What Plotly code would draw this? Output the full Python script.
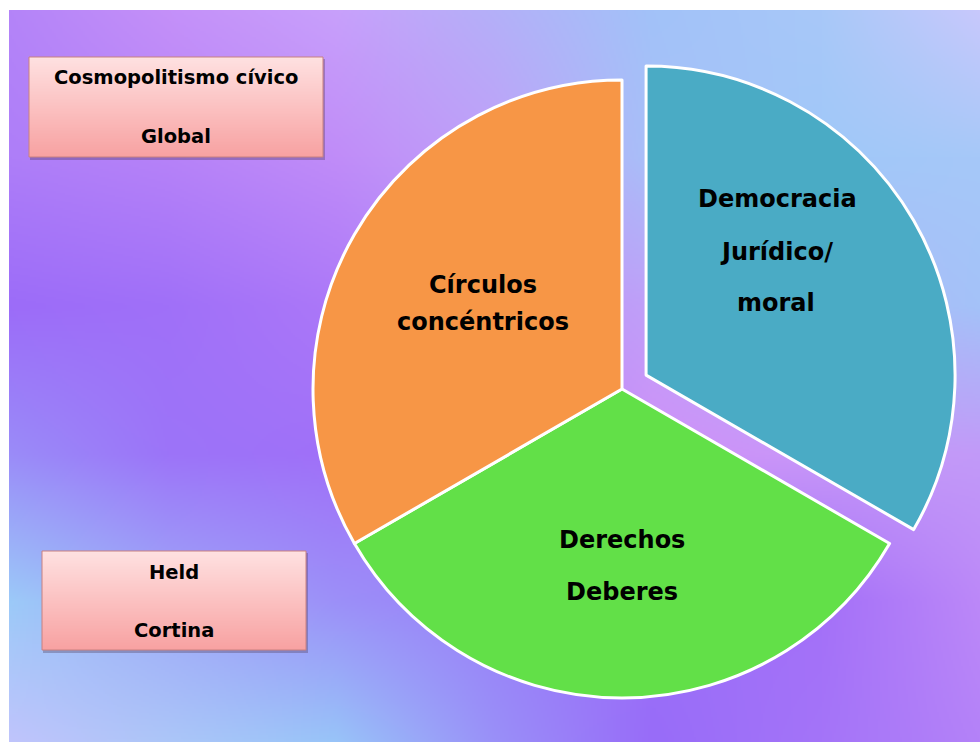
import base64
import struct
import zlib

import numpy as np
import plotly.graph_objects as go

# ---- data -------------------------------------------------------------
slice_labels = ["Democracia Jurídico/moral", "Derechos Deberes", "Círculos concéntricos"]
slice_values = [1, 1, 1]
slice_colors = ["#4aabc5", "#62e048", "#f79646"]
slice_pull = [0.09, 0, 0]

# text lines written inside each slice
slice_lines = [
    ["Democracia", "Jurídico/", "moral"],
    ["Derechos", "Deberes"],
    ["Círculos", "concéntricos"],
]

box_lines = [
    ["Cosmopolitismo cívico", "Global"],
    ["Held", "Cortina"],
]

W, H = 980, 742
FONT = "Comic Sans MS, DejaVu Sans, sans-serif"


# ---- small PNG helper for gradient fills -------------------------------
def png_uri(rgb):
    h, w, _ = rgb.shape
    raw = b"".join(b"\x00" + rgb[i].tobytes() for i in range(h))

    def chunk(tag, data):
        body = tag + data
        return struct.pack(">I", len(data)) + body + struct.pack(">I", zlib.crc32(body) & 0xFFFFFFFF)

    png = (b"\x89PNG\r\n\x1a\n"
           + chunk(b"IHDR", struct.pack(">IIBBBBB", w, h, 8, 2, 0, 0, 0))
           + chunk(b"IDAT", zlib.compress(raw, 9))
           + chunk(b"IEND", b""))
    return "data:image/png;base64," + base64.b64encode(png).decode()


def hex_rgb(h):
    h = h.lstrip("#")
    return [int(h[i:i + 2], 16) for i in (0, 2, 4)]


# slide background: colour grid blended bilinearly
grid_x = [0, 160, 330, 490, 650, 820, 980]
grid_y = [0, 150, 300, 450, 600, 742]
grid_c = [
    ["b484f8", "c490f9", "c8a0fb", "b4b0f8", "a2c2f8", "a8c8f8", "c8c8fc"],
    ["ae7ef8", "b682f8", "c08cf8", "c0a0f8", "a8c0f8", "a0c8f8", "a6c8f8"],
    ["9c6cf8", "a070f8", "ac78f8", "b890f8", "c0a0f8", "b0b8f8", "a4c2f8"],
    ["9a8cf8", "9c74f8", "a070f8", "b080f8", "d090f8", "c898f8", "c29af8"],
    ["9ccaf8", "9eaaf8", "9c90f8", "9a80f8", "9c70f8", "a470f8", "bc88f8"],
    ["c0c4fc", "acc6f8", "98c4f8", "9a90f8", "986cf8", "a474f8", "b482f8"],
]


def blend_grid(w, h):
    g = np.array([[hex_rgb(c) for c in row] for row in grid_c], dtype=float)
    xs = np.linspace(0, W, w)
    ys = np.linspace(0, H, h)
    rows = np.stack([np.stack([np.interp(xs, grid_x, g[r, :, k]) for k in range(3)], axis=-1)
                     for r in range(len(grid_y))])
    out = np.empty((h, w, 3))
    for k in range(3):
        for j in range(w):
            out[:, j, k] = np.interp(ys, grid_y, rows[:, j, k])
    return np.clip(out, 0, 255).astype(np.uint8)


bg_uri = png_uri(blend_grid(490, 371))


def vgrad(top, bottom, n=64):
    t = np.linspace(0, 1, n)[:, None]
    col = (1 - t) * np.array(hex_rgb(top)) + t * np.array(hex_rgb(bottom))
    return png_uri(np.repeat(col[:, None, :], 2, axis=1).astype(np.uint8))


box_uri = vgrad("#ffe2e2", "#f8a2a2")

# ---- figure -----------------------------------------------------------
fig = go.Figure()

# pie centre (622, 389) px, radius 309 px; the box leaves room for the pull
cx, cy, r = 622, 389, 309
half = r * (1 + max(slice_pull))
fig.add_trace(go.Pie(
    labels=slice_labels,
    values=slice_values,
    pull=slice_pull,
    sort=False,
    direction="clockwise",
    rotation=0,
    marker=dict(colors=slice_colors, line=dict(color="white", width=3)),
    textinfo="none",
    hoverinfo="skip",
    showlegend=False,
    domain=dict(x=[(cx - half) / W, (cx + half) / W],
                y=[1 - (cy + half) / H, 1 - (cy - half) / H]),
))

images = [dict(source=bg_uri, xref="paper", yref="paper", x=9 / W, y=1 - 10 / H,
               sizex=1 - 9 / W, sizey=1 - 10 / H, sizing="stretch",
               xanchor="left", yanchor="top", layer="below")]

shapes = []
annotations = []


def px_x(v):
    return v / W


def px_y(v):
    return 1 - v / H


# text boxes (left, top, right, bottom in px) and their line centres
box_rects = [(29, 57, 323, 157), (42, 551, 306, 650)]
box_line_y = [[78, 137], [572, 630]]
for (x0, y0, x1, y1), lines, ly in zip(box_rects, box_lines, box_line_y):
    # soft drop shadow under the box
    shapes.append(dict(type="rect", xref="paper", yref="paper",
                       x0=px_x(x0 + 1), x1=px_x(x1 + 2), y0=px_y(y1 + 3), y1=px_y(y0 + 2),
                       line=dict(width=0), fillcolor="rgba(80,60,90,0.35)", layer="below"))
    images.append(dict(source=box_uri, xref="paper", yref="paper", x=px_x(x0), y=px_y(y0),
                       sizex=(x1 - x0) / W, sizey=(y1 - y0) / H, sizing="stretch",
                       xanchor="left", yanchor="top", layer="above"))
    shapes.append(dict(type="rect", xref="paper", yref="paper",
                       x0=px_x(x0), x1=px_x(x1), y0=px_y(y1), y1=px_y(y0),
                       line=dict(color="#c88080", width=1), fillcolor="rgba(0,0,0,0)"))
    for text, yy in zip(lines, ly):
        annotations.append(dict(text="<b>" + text + "</b>", xref="paper", yref="paper",
                                x=px_x((x0 + x1) / 2), y=px_y(yy), xanchor="center", yanchor="middle",
                                showarrow=False, font=dict(family=FONT, size=19.5, color="black")))

# slice captions
slice_text_pos = [
    [(777, 199), (776, 252), (776, 303)],
    [(622, 540), (622, 592)],
    [(483, 285), (483, 322)],
]
for lines, pos in zip(slice_lines, slice_text_pos):
    for text, (x, y) in zip(lines, pos):
        annotations.append(dict(text="<b>" + text + "</b>", xref="paper", yref="paper",
                                x=px_x(x), y=px_y(y), xanchor="center", yanchor="middle",
                                showarrow=False, font=dict(family=FONT, size=24, color="black")))

fig.update_layout(
    width=W, height=H, autosize=False,
    margin=dict(l=0, r=0, t=0, b=0),
    paper_bgcolor="white",
    plot_bgcolor="rgba(0,0,0,0)",
    images=images,
    shapes=shapes,
    annotations=annotations,
)

fig.write_html("out.html")
